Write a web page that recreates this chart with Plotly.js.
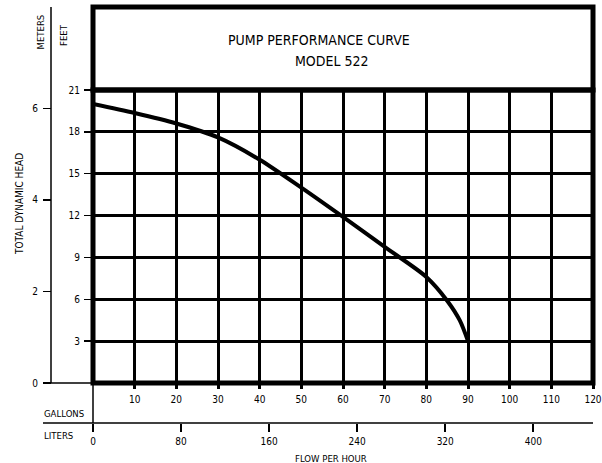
<!DOCTYPE html>
<html>
<head>
<meta charset="utf-8">
<script src="https://cdn.plot.ly/plotly-3.0.1.min.js"></script>
<style>html,body{margin:0;padding:0;background:#fff;}#chart{width:602px;height:463px;}</style>
</head>
<body>
<div id="chart"></div>
<script>
// ---- data ----
const gallons = [0, 10, 20, 30, 40, 50, 60, 70, 80, 85, 88, 90];
const headFeet = [20.0, 19.35, 18.6, 17.6, 16.0, 14.0, 11.9, 9.75, 7.6, 5.9, 4.5, 3.0];
const feetTicks = [3, 6, 9, 12, 15, 18, 21];
const meterTicks = [0, 2, 4, 6];
const gallonTicks = [10, 20, 30, 40, 50, 60, 70, 80, 90, 100, 110, 120];
const literTicks = [0, 80, 160, 240, 320, 400];
const titleLine1 = "PUMP PERFORMANCE CURVE";
const titleLine2 = "MODEL 522";

// ---- layout helpers ----
const W = 602, H = 463;
const px = v => v / W;
const py = v => (H - v) / H;
const FONT = "'Liberation Sans Narrow', 'DejaVu Sans Condensed', 'Arial Narrow', sans-serif";
const gMax = 120, fMax = 21;
const mMax = fMax * 0.3048;
const lMax = gMax * 3.785411784;

const L = 93, R = 593, T = 90, B = 383;

const traces = [
  {x: gallons, y: headFeet, mode: 'lines', line: {color: '#000', width: 4, shape: 'spline', smoothing: 0.8},
   xaxis: 'x', yaxis: 'y', hoverinfo: 'skip', showlegend: false},
  {x: [literTicks[0]], y: [headFeet[0]], mode: 'markers', marker: {opacity: 0}, xaxis: 'x2', yaxis: 'y', hoverinfo: 'skip', showlegend: false},
  {x: [gallons[0]], y: [meterTicks[0]], mode: 'markers', marker: {opacity: 0}, xaxis: 'x', yaxis: 'y2', hoverinfo: 'skip', showlegend: false}
];

const tickFont = {family: FONT, size: 10, color: '#000'};

const layout = {
  width: W, height: H,
  margin: {l: 0, r: 0, t: 0, b: 0},
  paper_bgcolor: '#fff', plot_bgcolor: '#fff',
  font: {family: FONT, color: '#000'},
  showlegend: false,
  xaxis: {
    domain: [px(L), px(R)], range: [0, gMax], tickvals: gallonTicks, ticktext: gallonTicks.map(String),
    showgrid: true, gridcolor: '#000', gridwidth: 3, zeroline: false, showline: false,
    ticks: 'outside', ticklen: 5, tickwidth: 3, tickcolor: '#000', tickfont: tickFont, ticklabelstandoff: 2,
    fixedrange: true
  },
  yaxis: {
    domain: [py(B), py(T)], range: [0, fMax], tickvals: feetTicks, ticktext: feetTicks.map(String),
    showgrid: true, gridcolor: '#000', gridwidth: 3, zeroline: false, showline: false,
    ticks: 'outside', ticklen: 8, tickwidth: 1.5, tickcolor: '#000', tickfont: tickFont, ticklabelstandoff: 2,
    fixedrange: true
  },
  xaxis2: {
    overlaying: 'x', anchor: 'free', position: py(423), side: 'bottom',
    range: [0, lMax], tickvals: literTicks, ticktext: literTicks.map(String),
    showgrid: false, zeroline: false, showline: false,
    ticks: 'outside', ticklen: 8, tickwidth: 2, tickcolor: '#000', tickfont: tickFont, ticklabelstandoff: 1,
    fixedrange: true
  },
  yaxis2: {
    overlaying: 'y', anchor: 'free', position: px(51), side: 'left',
    range: [0, mMax], tickvals: meterTicks, ticktext: meterTicks.map(String),
    showgrid: false, zeroline: false, showline: false,
    ticks: 'outside', ticklen: 8, tickwidth: 1.5, tickcolor: '#000', tickfont: tickFont, ticklabelstandoff: 3,
    fixedrange: true
  },
  shapes: [
    {type: 'rect', xref: 'paper', yref: 'paper', x0: px(L), x1: px(R), y0: py(T), y1: py(7), line: {color: '#000', width: 5}, layer: 'above'},
    {type: 'rect', xref: 'paper', yref: 'paper', x0: px(L), x1: px(R), y0: py(B), y1: py(T), line: {color: '#000', width: 5}, layer: 'above'},
    {type: 'line', xref: 'paper', yref: 'paper', x0: px(51), x1: px(51), y0: py(B), y1: py(7), line: {color: '#000', width: 1.5}},
    {type: 'line', xref: 'paper', yref: 'paper', x0: px(43), x1: px(L), y0: py(B), y1: py(B), line: {color: '#000', width: 1.5}},
    {type: 'line', xref: 'paper', yref: 'paper', x0: px(L), x1: px(L), y0: py(B), y1: py(423), line: {color: '#000', width: 1.5}},
    {type: 'line', xref: 'paper', yref: 'paper', x0: px(43), x1: px(R), y0: py(423), y1: py(423), line: {color: '#000', width: 1.5}}
  ],
  annotations: [
    {text: titleLine1, xref: 'paper', yref: 'paper', x: px(318.5), y: py(39.5), xanchor: 'center', yanchor: 'middle', showarrow: false, font: {family: FONT, size: 14, color: '#000'}},
    {text: titleLine2, xref: 'paper', yref: 'paper', x: px(332), y: py(61.5), xanchor: 'center', yanchor: 'middle', showarrow: false, font: {family: FONT, size: 14, color: '#000'}},
    {text: 'METERS', xref: 'paper', yref: 'paper', x: px(40), y: py(32.5), xanchor: 'center', yanchor: 'middle', textangle: -90, showarrow: false, font: {family: FONT, size: 9.5, color: '#000'}},
    {text: 'FEET', xref: 'paper', yref: 'paper', x: px(63), y: py(48), xanchor: 'center', yanchor: 'bottom', textangle: -90, showarrow: false, font: {family: FONT, size: 9.5, color: '#000'}},
    {text: 'TOTAL DYNAMIC HEAD', xref: 'paper', yref: 'paper', x: px(19), y: py(204), xanchor: 'center', yanchor: 'middle', textangle: -90, showarrow: false, font: {family: FONT, size: 10, color: '#000'}},
    {text: 'GALLONS', xref: 'paper', yref: 'paper', x: px(42), y: py(413.5), xanchor: 'left', yanchor: 'middle', showarrow: false, font: {family: FONT, size: 9.5, color: '#000'}},
    {text: 'LITERS', xref: 'paper', yref: 'paper', x: px(42), y: py(435), xanchor: 'left', yanchor: 'middle', showarrow: false, font: {family: FONT, size: 9.5, color: '#000'}},
    {text: 'FLOW PER HOUR', xref: 'paper', yref: 'paper', x: px(331), y: py(458), xanchor: 'center', yanchor: 'middle', showarrow: false, font: {family: FONT, size: 9.5, color: '#000'}}
  ]
};

Plotly.newPlot('chart', traces, layout, {displayModeBar: false, staticPlot: true});
</script>
</body>
</html>
